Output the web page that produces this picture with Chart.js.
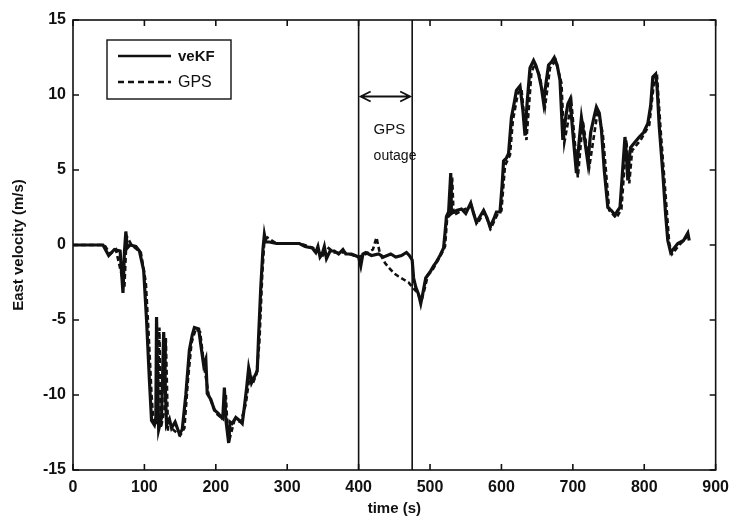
<!DOCTYPE html>
<html>
<head>
<meta charset="utf-8">
<script src="https://cdn.jsdelivr.net/npm/chart.js@4/dist/chart.umd.min.js"></script>
<style>
  html, body { margin: 0; padding: 0; background: #fff; }
  #wrap { width: 737px; height: 522px; }
</style>
</head>
<body>
<div id="wrap"><canvas id="canvas-display" width="737" height="522"></canvas></div>
<script>
// veKF estimate (time s, east velocity m/s)
var veKFTime = [0, 42, 50, 58, 66, 70, 72, 74, 76, 80, 88, 93, 99, 103, 107, 110, 114, 116, 117, 119,
    120, 124, 127, 129, 131, 135, 138, 143, 149, 153, 158, 163, 167, 170, 176, 180, 183, 186, 188, 193,
    198, 203, 208, 210, 212, 214, 218, 220, 223, 228, 233, 237, 240, 243, 246, 250, 254, 258, 260, 263,
    266, 268, 270, 275, 285, 300, 317, 325, 335, 340, 343, 346, 349, 352, 355, 360, 366, 372, 378, 382,
    390, 395, 400, 403, 406, 410, 418, 428, 435, 445, 452, 460, 467, 471, 475, 477, 480, 484, 487, 490,
    494, 500, 505, 508, 514, 519, 521, 523, 526, 529, 530, 537, 544, 550, 557, 561, 565, 570, 575, 580,
    584, 589, 593, 598, 601, 603, 607, 610, 614, 618, 621, 626, 630, 633, 636, 640, 645, 648, 652, 656,
    659, 663, 666, 670, 674, 678, 682, 686, 690, 693, 696, 700, 705, 709, 712, 716, 721, 725, 730, 733,
    737, 740, 744, 749, 754, 759, 763, 766, 769, 773, 775, 777, 779, 781, 786, 793, 799, 805, 809, 812,
    816, 818, 821, 826, 830, 833, 837, 842, 847, 855, 861, 863];
var veKFVel = [0, 0, -0.7, -0.3, -0.4, -3.2, -0.5, 0.9, -0.2, 0, -0.1, -0.4, -1.7, -5, -9, -11.7, -12, -11.5, -4.8, -10,
    -12.3, -11.5, -5.8, -9, -12, -11.6, -12.2, -11.8, -12.6, -12.3, -10, -7, -6, -5.5, -5.6, -7, -8, -7.6, -9.9, -10.3,
    -11, -11.2, -11.5, -11.3, -9.5, -11.6, -13.2, -11.8, -11.9, -11.5, -11.7, -11.9, -10.8, -9.6, -8.2, -9.2, -8.8, -8.4, -6, -2.8,
    -0.3, 0.7, 0.2, 0.2, 0.1, 0.1, 0.1, -0.1, -0.2, -0.5, -0.1, -0.8, -0.6, -0.1, -0.9, -0.4, -0.4, -0.6, -0.3, -0.6,
    -0.6, -0.7, -0.8, -1.4, -0.6, -0.5, -0.7, -0.6, -0.8, -0.6, -0.8, -0.7, -0.5, -0.7, -1, -2.2, -2.8, -3.3, -3.9, -3.2,
    -2.2, -1.8, -1.4, -1.2, -0.7, -0.2, 0.8, 1.9, 2.2, 4.8, 2.1, 2.3, 2.4, 2.1, 2.8, 2.1, 1.5, 1.9, 2.3, 1.8,
    1.2, 1.7, 2.2, 2.2, 4, 5.6, 5.8, 6.1, 8.5, 9.5, 10.3, 10.6, 9, 7.3, 9.5, 11.8, 12.3, 12, 11.4, 10.5,
    9.5, 11, 12, 12.2, 12.5, 12, 11, 7, 8.5, 9.4, 9.7, 7.5, 4.8, 7, 8.5, 7.2, 5.5, 7.5, 8.6, 9.2,
    8.8, 7.7, 5, 2.5, 2.3, 2, 2.3, 2.5, 4.5, 7.2, 6, 4.3, 5.8, 6.5, 6.8, 7.2, 7.5, 8.1, 9.3, 11.2,
    11.4, 10.5, 7.9, 4.8, 2, 0.3, -0.5, -0.2, 0.1, 0.3, 0.8, 0.3];

// GPS reference (time s, east velocity m/s)
var gpsTime = [0, 44, 52, 60, 72, 75, 82, 95, 102, 106, 110, 113, 118, 121, 123, 128, 130, 133, 140, 150,
    156, 161, 166, 172, 178, 184, 190, 200, 210, 214, 216, 220, 226, 235, 242, 248, 252, 257, 261, 265,
    268, 272, 285, 318, 336, 342, 350, 358, 366, 380, 393, 400, 410, 420, 425, 430, 437, 442, 450, 456,
    463, 470, 475, 481, 488, 492, 497, 503, 510, 516, 521, 524, 528, 531, 533, 545, 558, 566, 576, 585,
    595, 600, 605, 612, 616, 623, 628, 635, 642, 647, 654, 661, 668, 676, 684, 688, 698, 707, 714, 723,
    735, 742, 751, 761, 768, 775, 779, 783, 795, 807, 814, 818, 823, 828, 835, 839, 849, 863];
var gpsVel = [0, 0, -0.6, -0.3, -2.8, 0.6, 0, -0.5, -2.5, -6, -10, -12, -11.8, -5.5, -12.2, -11, -6.2, -12.3, -12.3, -12.7,
    -12.2, -9, -6.5, -5.6, -5.8, -8.2, -10, -11.2, -11.6, -10, -11.8, -12.8, -11.7, -11.8, -10.6, -8.5, -9.2, -8.6, -6.5, -2,
    0.3, 0.5, 0.1, 0.1, -0.2, -0.4, -0.7, -0.2, -0.5, -0.5, -0.7, -0.8, -0.6, -0.3, 0.5, -0.6, -1.2, -1.5, -1.9, -2.1,
    -2.3, -2.5, -2.8, -3.1, -3.7, -3.0, -2.0, -1.7, -1.1, -0.6, -0.1, 1.8, 2.0, 4.5, 2.0, 2.3, 2.6, 1.4, 2.2, 1.1,
    2.1, 2.3, 5.3, 6, 8.3, 10.1, 10.4, 7.0, 11.5, 12.1, 11.2, 9.2, 11.8, 12.3, 10.8, 6.8, 9.5, 4.5, 8.3, 5.2,
    9.0, 7.4, 2.3, 1.8, 2.4, 7.0, 4.1, 6.3, 7.0, 8.0, 11.0, 11.2, 7.6, 4.5, 0.1, -0.6, 0, 0.7];

// outage window and axes
var outageStart = 400;
var outageEnd = 475;
var xTicks = [0, 100, 200, 300, 400, 500, 600, 700, 800, 900];
var yTicks = [-15, -10, -5, 0, 5, 10, 15];

function pairs(t, v) {
    return t.map(function (e, i) { return { x: e, y: v[i] }; });
}

var ink = '#111';
var face = '"Liberation Sans", Arial, sans-serif';

var matlabFrame = {
    id: 'matlabFrame',
    afterDraw: function (chart) {
        var ctx = chart.ctx;
        var a = chart.chartArea;
        var sx = chart.scales.x, sy = chart.scales.y;
        ctx.save();
        ctx.strokeStyle = ink;
        ctx.lineWidth = 1.6;
        ctx.strokeRect(a.left, a.top, a.right - a.left, a.bottom - a.top);
        // inward ticks
        ctx.beginPath();
        xTicks.forEach(function (t) {
            var px = sx.getPixelForValue(t);
            ctx.moveTo(px, a.bottom); ctx.lineTo(px, a.bottom - 6);
            ctx.moveTo(px, a.top); ctx.lineTo(px, a.top + 6);
        });
        yTicks.forEach(function (t) {
            var py = sy.getPixelForValue(t);
            ctx.moveTo(a.left, py); ctx.lineTo(a.left + 6, py);
            ctx.moveTo(a.right, py); ctx.lineTo(a.right - 6, py);
        });
        ctx.stroke();

        // outage arrow and label
        var x1 = sx.getPixelForValue(outageStart), x2 = sx.getPixelForValue(outageEnd);
        var ay = sy.getPixelForValue(9.9);
        ctx.lineWidth = 1.8;
        ctx.beginPath();
        ctx.moveTo(x1 + 2, ay); ctx.lineTo(x2 - 2, ay);
        ctx.moveTo(x1 + 12, ay - 5); ctx.lineTo(x1 + 2, ay); ctx.lineTo(x1 + 12, ay + 5);
        ctx.moveTo(x2 - 12, ay - 5); ctx.lineTo(x2 - 2, ay); ctx.lineTo(x2 - 12, ay + 5);
        ctx.stroke();
        ctx.fillStyle = ink;
        ctx.font = '15px ' + face;
        ctx.textBaseline = 'middle';
        ctx.textAlign = 'left';
        ctx.fillText('GPS', x1 + 15, sy.getPixelForValue(7.7));
        ctx.font = '14px ' + face;
        ctx.fillText('outage', x1 + 15, sy.getPixelForValue(5.9));

        // legend box
        var lx = a.left + 34, ly = a.top + 20;
        ctx.lineWidth = 1.4;
        ctx.strokeRect(lx, ly, 124, 59);
        ctx.lineWidth = 2.6;
        ctx.beginPath();
        ctx.moveTo(lx + 11, ly + 16); ctx.lineTo(lx + 64, ly + 16);
        ctx.stroke();
        ctx.setLineDash([6, 4]);
        ctx.beginPath();
        ctx.moveTo(lx + 11, ly + 42); ctx.lineTo(lx + 64, ly + 42);
        ctx.stroke();
        ctx.setLineDash([]);
        ctx.font = 'bold 15px ' + face;
        ctx.fillText('veKF', lx + 71, ly + 17);
        ctx.font = '16px ' + face;
        ctx.fillText('GPS', lx + 71, ly + 43);
        ctx.restore();
    }
};

var ctxC = document.getElementById('canvas-display').getContext('2d');
var tickFont = { family: face, size: 16, weight: 'bold' };
var titleFont = { family: face, size: 15, weight: 'bold' };

new Chart(ctxC, {
    type: 'line',
    data: {
        datasets: [{
            label: 'veKF',
            data: pairs(veKFTime, veKFVel),
            borderColor: ink,
            borderWidth: 3.2,
            pointRadius: 0,
            fill: false,
            tension: 0
        }, {
            label: 'GPS',
            data: pairs(gpsTime, gpsVel),
            borderColor: ink,
            borderWidth: 2.6,
            borderDash: [5, 3],
            pointRadius: 0,
            fill: false,
            tension: 0
        }, {
            label: 'start',
            data: [{ x: outageStart, y: -15 }, { x: outageStart, y: 15 }],
            borderColor: ink,
            borderWidth: 1.6,
            pointRadius: 0
        }, {
            label: 'end',
            data: [{ x: outageEnd, y: -15 }, { x: outageEnd, y: 15 }],
            borderColor: ink,
            borderWidth: 1.6,
            pointRadius: 0
        }]
    },
    options: {
        responsive: false,
        animation: false,
        layout: { padding: { left: 6, right: 19, top: 20, bottom: 0 } },
        plugins: { legend: { display: false }, tooltip: { enabled: false } },
        scales: {
            x: {
                type: 'linear',
                min: 0, max: 900,
                afterFit: function (s) { s.height = 52; },
                afterBuildTicks: function (s) { s.ticks = xTicks.map(function (v) { return { value: v }; }); },
                grid: { display: false, drawTicks: false },
                border: { display: false },
                ticks: { color: ink, font: tickFont, padding: 8, maxRotation: 0 },
                title: { display: true, text: 'time (s)', color: ink, font: titleFont, padding: { top: 0 } }
            },
            y: {
                type: 'linear',
                min: -15, max: 15,
                afterFit: function (s) { s.width = 67; },
                afterBuildTicks: function (s) { s.ticks = yTicks.map(function (v) { return { value: v }; }); },
                grid: { display: false, drawTicks: false },
                border: { display: false },
                ticks: { color: ink, font: tickFont, padding: 7 },
                title: { display: true, text: 'East velocity (m/s)', color: ink, font: titleFont, padding: { bottom: 4 } }
            }
        }
    },
    plugins: [matlabFrame]
});
</script>
</body>
</html>
